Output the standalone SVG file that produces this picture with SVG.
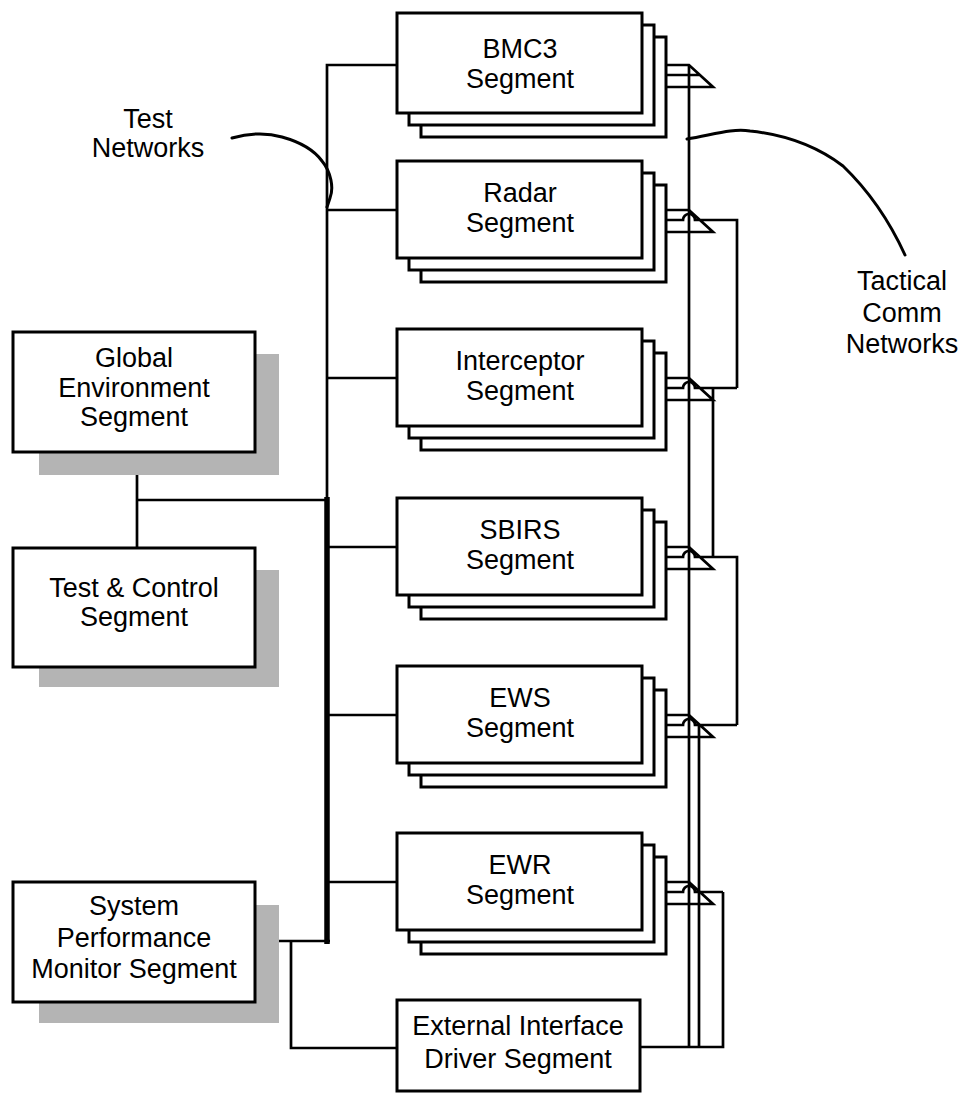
<svg xmlns="http://www.w3.org/2000/svg" width="963" height="1093" viewBox="0 0 963 1093">
<style>
.box{fill:#fff;stroke:#000;stroke-width:3}
.sh{fill:#b4b4b4}
.ln{fill:none;stroke:#000;stroke-width:2.7}
.thick{fill:none;stroke:#000;stroke-width:5.5}
.crv{fill:none;stroke:#000;stroke-width:3;stroke-linecap:round}
text{font-family:"Liberation Sans",Arial,sans-serif;font-size:27px;text-anchor:middle;fill:#000}
</style>
<rect width="963" height="1093" fill="#fff"/>

<g id="connectors">
  <path class="ln" d="M397,65 H327 V500"/>
  <path class="thick" d="M327,497 V944"/>
  <path class="ln" d="M137,452 V548 M137,500 H327"/>
  <path class="ln" d="M327,210 H397 M327,378 H397 M327,547 H397 M327,715 H397 M327,882 H397"/>
  <path class="ln" d="M279,941 H330 M291,941 V1048 H397"/>
  <path class="ln" d="M689,65 V1047"/>
  <path class="ln" d="M640,1047 H723 V892"/>
  <path class="ln" d="M642,65 H689 L713,87 H666 M654,75 H700"/>
  <path class="ln" d="M642,210 H689 L713,232 H666 M654,220 H683 A6,6 0 0 1 695,220 H737 V388"/>
  <path class="ln" d="M642,378 H689 L713,400 H666 M654,388 H683 A6,6 0 0 1 695,388 H737 M713,388 V557"/>
  <path class="ln" d="M642,547 H689 L713,569 H666 M654,557 H683 A6,6 0 0 1 695,557 H737 V725"/>
  <path class="ln" d="M642,715 H689 L713,737 H666 M654,725 H683 A6,6 0 0 1 695,725 H737 M699,725 V1047"/>
  <path class="ln" d="M642,882 H689 L713,904 H666 M654,892 H683 A6,6 0 0 1 695,892 H723"/>
  <path class="crv" d="M232,138 C250,133 265,132 282,137 C300,142 314,150 322,161 C331,172 334,188 330,198 L327,207"/>
  <path class="crv" d="M687,139 C712,135 732,128 750,131 C788,135 818,147 843,166 C868,190 889,220 905,255"/>
</g>

<g id="labels">
  <text x="148" y="128">Test</text>
  <text x="148" y="157">Networks</text>
  <text x="902" y="290">Tactical</text>
  <text x="902" y="322">Comm</text>
  <text x="902" y="353">Networks</text>
</g>

<g id="global-environment">
  <rect class="sh" x="39" y="354" width="240" height="121"/>
  <rect class="box" x="13" y="332" width="242" height="120"/>
  <text x="134" y="367">Global</text>
  <text x="134" y="397">Environment</text>
  <text x="134" y="426">Segment</text>
</g>

<g id="test-control">
  <rect class="sh" x="39" y="570" width="240" height="117"/>
  <rect class="box" x="13" y="548" width="242" height="119"/>
  <text x="134" y="597">Test &amp; Control</text>
  <text x="134" y="626">Segment</text>
</g>

<g id="system-performance-monitor">
  <rect class="sh" x="39" y="905" width="240" height="118"/>
  <rect class="box" x="13" y="882" width="242" height="120"/>
  <text x="134" y="915">System</text>
  <text x="134" y="947">Performance</text>
  <text x="134" y="978">Monitor Segment</text>
</g>

<g id="bmc3">
  <rect class="box" x="421" y="37" width="245" height="100"/>
  <rect class="box" x="409" y="25" width="245" height="100"/>
  <rect class="box" x="397" y="13" width="245" height="100"/>
  <text x="520" y="58">BMC3</text>
  <text x="520" y="88">Segment</text>
</g>

<g id="radar">
  <rect class="box" x="421" y="185" width="245" height="97"/>
  <rect class="box" x="409" y="173" width="245" height="97"/>
  <rect class="box" x="397" y="161" width="245" height="97"/>
  <text x="520" y="202">Radar</text>
  <text x="520" y="232">Segment</text>
</g>

<g id="interceptor">
  <rect class="box" x="421" y="353" width="245" height="97"/>
  <rect class="box" x="409" y="341" width="245" height="97"/>
  <rect class="box" x="397" y="329" width="245" height="97"/>
  <text x="520" y="370">Interceptor</text>
  <text x="520" y="400">Segment</text>
</g>

<g id="sbirs">
  <rect class="box" x="421" y="522" width="245" height="97"/>
  <rect class="box" x="409" y="510" width="245" height="97"/>
  <rect class="box" x="397" y="498" width="245" height="97"/>
  <text x="520" y="539">SBIRS</text>
  <text x="520" y="569">Segment</text>
</g>

<g id="ews">
  <rect class="box" x="421" y="690" width="245" height="97"/>
  <rect class="box" x="409" y="678" width="245" height="97"/>
  <rect class="box" x="397" y="666" width="245" height="97"/>
  <text x="520" y="707">EWS</text>
  <text x="520" y="737">Segment</text>
</g>

<g id="ewr">
  <rect class="box" x="421" y="857" width="245" height="97"/>
  <rect class="box" x="409" y="845" width="245" height="97"/>
  <rect class="box" x="397" y="833" width="245" height="97"/>
  <text x="520" y="874">EWR</text>
  <text x="520" y="904">Segment</text>
</g>

<g id="external-interface-driver">
  <rect class="box" x="397" y="1000" width="243" height="91"/>
  <text x="518" y="1035">External Interface</text>
  <text x="518" y="1068">Driver Segment</text>
</g>
</svg>
